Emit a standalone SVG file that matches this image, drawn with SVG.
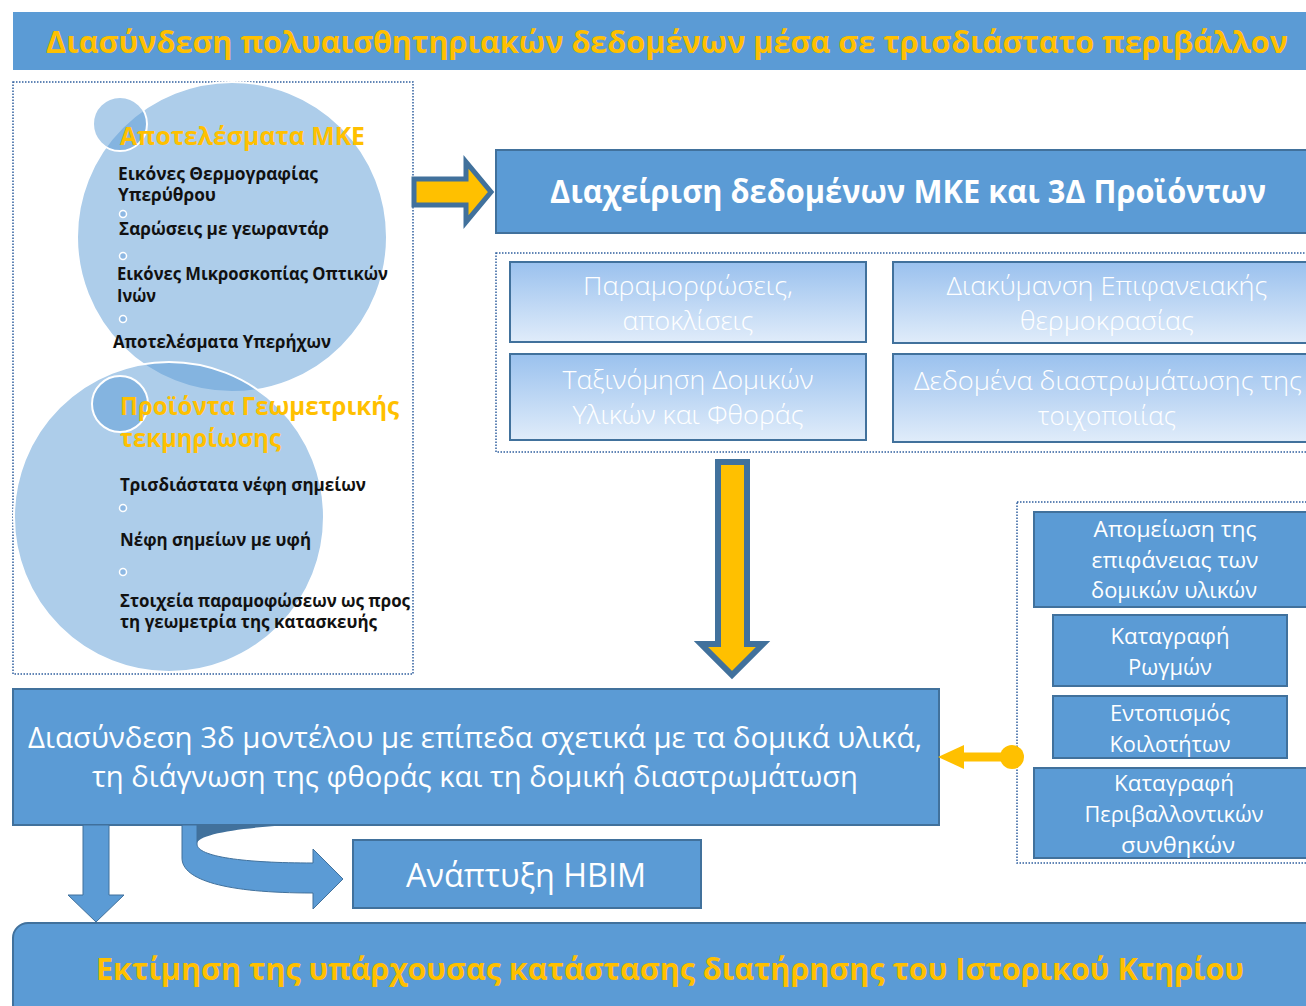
<svg xmlns="http://www.w3.org/2000/svg" width="1306" height="1006" viewBox="0 0 1306 1006">
  <defs>
    <linearGradient id="softBlue" x1="0" y1="0" x2="0" y2="1">
      <stop offset="0" stop-color="#9AC1EE"/>
      <stop offset="1" stop-color="#E0ECFA"/>
    </linearGradient>
    <style>
      text { font-family: "Open Sans", "Noto Sans", "Liberation Sans", sans-serif; }
      .box { fill: #5B9BD5; stroke: #41719C; stroke-width: 2; }
      .soft { fill: url(#softBlue); stroke: #41719C; stroke-width: 2; }
      .dots { fill: none; stroke: #2F5F9E; stroke-width: 1.5; stroke-dasharray: 1.5 1.5; }
      .bubble { fill: #5B9BD5; fill-opacity: 0.5; stroke: #FFFFFF; stroke-width: 2; }
      .bullet { fill: #8DB8E3; stroke: #FFFFFF; stroke-width: 1.5; }
      .head { fill: #FFC000; font-weight: 700; }
      .item { fill: #111111; font-weight: 700; font-size: 17px; }
      .wt { fill: #FFFFFF; text-anchor: middle; }
      .light { fill: #FFFFFF; text-anchor: middle; font-size: 26px; font-weight: 300; }
      .side { fill: #FFFFFF; text-anchor: middle; font-size: 22px; }
    </style>
  </defs>

  <!-- title bar -->
  <g id="title">
    <rect x="13" y="12" width="1300" height="58" fill="#5B9BD5"/>
    <text class="head" x="46" y="53" font-size="31" textLength="1242" lengthAdjust="spacingAndGlyphs">Διασύνδεση πολυαισθητηριακών δεδομένων μέσα σε τρισδιάστατο περιβάλλον</text>
  </g>

  <!-- left panel: inputs -->
  <g id="inputs">
    <rect class="dots" x="13" y="82" width="400" height="592"/>
    <circle class="bubble" cx="232" cy="237" r="155"/>
    <circle class="bubble" cx="169" cy="517" r="155"/>
    <circle class="bubble" cx="120" cy="124" r="27"/>
    <circle class="bubble" cx="120" cy="404" r="28"/>

    <g id="nde-results">
      <text class="head" x="120" y="145" font-size="25" textLength="245" lengthAdjust="spacingAndGlyphs">Αποτελέσματα ΜΚΕ</text>
      <text class="item" x="118" y="180" textLength="200" lengthAdjust="spacingAndGlyphs">Εικόνες Θερμογραφίας</text>
      <text class="item" x="118" y="201" textLength="98" lengthAdjust="spacingAndGlyphs">Υπερύθρου</text>
      <circle class="bullet" cx="123" cy="214" r="3.5"/>
      <text class="item" x="119" y="235" textLength="210" lengthAdjust="spacingAndGlyphs">Σαρώσεις με γεωραντάρ</text>
      <circle class="bullet" cx="123" cy="256" r="3.5"/>
      <text class="item" x="117" y="280" textLength="271" lengthAdjust="spacingAndGlyphs">Εικόνες Μικροσκοπίας Οπτικών</text>
      <text class="item" x="117" y="302" textLength="39" lengthAdjust="spacingAndGlyphs">Ινών</text>
      <circle class="bullet" cx="123" cy="319" r="3.5"/>
      <text class="item" x="113" y="348" textLength="218" lengthAdjust="spacingAndGlyphs">Αποτελέσματα Υπερήχων</text>
    </g>

    <g id="geometry-products">
      <text class="head" x="120" y="415" font-size="25" textLength="279" lengthAdjust="spacingAndGlyphs">Προϊόντα Γεωμετρικής</text>
      <text class="head" x="120" y="447" font-size="25" textLength="161" lengthAdjust="spacingAndGlyphs">τεκμηρίωσης</text>
      <text class="item" x="120" y="491" textLength="246" lengthAdjust="spacingAndGlyphs">Τρισδιάστατα νέφη σημείων</text>
      <circle class="bullet" cx="123" cy="508" r="3.5"/>
      <text class="item" x="120" y="546" textLength="191" lengthAdjust="spacingAndGlyphs">Νέφη σημείων με υφή</text>
      <circle class="bullet" cx="123" cy="572" r="3.5"/>
      <text class="item" x="120" y="607" textLength="290" lengthAdjust="spacingAndGlyphs">Στοιχεία παραμοφώσεων ως προς</text>
      <text class="item" x="120" y="628" textLength="257" lengthAdjust="spacingAndGlyphs">τη γεωμετρία της κατασκευής</text>
    </g>
  </g>

  <!-- data management header -->
  <g id="data-management">
    <rect class="box" x="496" y="150" width="820" height="83"/>
    <text class="wt" x="908" y="203" font-size="32" font-weight="700" textLength="716" lengthAdjust="spacingAndGlyphs">Διαχείριση δεδομένων ΜΚΕ και 3Δ Προϊόντων</text>
  </g>

  <!-- derived data group -->
  <g id="derived-data">
    <rect class="dots" x="496" y="253" width="820" height="199"/>
    <g id="deformations">
      <rect class="soft" x="510" y="262" width="356" height="80"/>
      <text class="light" x="688" y="295" textLength="210" lengthAdjust="spacingAndGlyphs">Παραμορφώσεις,</text>
      <text class="light" x="688" y="330" textLength="131" lengthAdjust="spacingAndGlyphs">αποκλίσεις</text>
    </g>
    <g id="surface-temperature">
      <rect class="soft" x="893" y="262" width="423" height="81"/>
      <text class="light" x="1107" y="295" textLength="321" lengthAdjust="spacingAndGlyphs">Διακύμανση Επιφανειακής</text>
      <text class="light" x="1107" y="330" textLength="174" lengthAdjust="spacingAndGlyphs">θερμοκρασίας</text>
    </g>
    <g id="materials-classification">
      <rect class="soft" x="510" y="354" width="356" height="86"/>
      <text class="light" x="688" y="389" textLength="251" lengthAdjust="spacingAndGlyphs">Ταξινόμηση Δομικών</text>
      <text class="light" x="688" y="424" textLength="231" lengthAdjust="spacingAndGlyphs">Υλικών και Φθοράς</text>
    </g>
    <g id="masonry-layers">
      <rect class="soft" x="893" y="354" width="423" height="88"/>
      <text class="light" x="1108" y="390" textLength="388" lengthAdjust="spacingAndGlyphs">Δεδομένα διαστρωμάτωσης της</text>
      <text class="light" x="1107" y="425" textLength="138" lengthAdjust="spacingAndGlyphs">τοιχοποιίας</text>
    </g>
  </g>

  <!-- right panel: monitoring items -->
  <g id="monitoring">
    <rect class="dots" x="1017" y="502" width="300" height="361"/>
    <g id="surface-loss">
      <rect class="box" x="1034" y="512" width="280" height="95"/>
      <text class="side" x="1175" y="537" textLength="163" lengthAdjust="spacingAndGlyphs">Απομείωση της</text>
      <text class="side" x="1175" y="568" textLength="167" lengthAdjust="spacingAndGlyphs">επιφάνειας των</text>
      <text class="side" x="1174" y="598" textLength="166" lengthAdjust="spacingAndGlyphs">δομικών υλικών</text>
    </g>
    <g id="cracks">
      <rect class="box" x="1053" y="615" width="234" height="71"/>
      <text class="side" x="1170" y="644" textLength="119" lengthAdjust="spacingAndGlyphs">Καταγραφή</text>
      <text class="side" x="1170" y="675" textLength="84" lengthAdjust="spacingAndGlyphs">Ρωγμών</text>
    </g>
    <g id="cavities">
      <rect class="box" x="1053" y="696" width="234" height="62"/>
      <text class="side" x="1170" y="721" textLength="120" lengthAdjust="spacingAndGlyphs">Εντοπισμός</text>
      <text class="side" x="1170" y="752" textLength="121" lengthAdjust="spacingAndGlyphs">Κοιλοτήτων</text>
    </g>
    <g id="environment">
      <rect class="box" x="1034" y="768" width="280" height="90"/>
      <text class="side" x="1174" y="791" textLength="120" lengthAdjust="spacingAndGlyphs">Καταγραφή</text>
      <text class="side" x="1174" y="822" textLength="179" lengthAdjust="spacingAndGlyphs">Περιβαλλοντικών</text>
      <text class="side" x="1178" y="853" textLength="114" lengthAdjust="spacingAndGlyphs">συνθηκών</text>
    </g>
  </g>

  <!-- 3D model linking -->
  <g id="model-linking">
    <rect class="box" x="13" y="689" width="926" height="136"/>
    <text class="wt" x="475" y="748" font-size="29" textLength="894" lengthAdjust="spacingAndGlyphs">Διασύνδεση 3δ μοντέλου με επίπεδα σχετικά με τα δομικά υλικά,</text>
    <text class="wt" x="475" y="787" font-size="29" textLength="766" lengthAdjust="spacingAndGlyphs">τη διάγνωση της φθοράς και τη δομική διαστρωμάτωση</text>
  </g>

  <!-- HBIM -->
  <g id="hbim">
    <rect class="box" x="353" y="840" width="348" height="68"/>
    <text class="wt" x="526" y="887" font-size="32" textLength="240" lengthAdjust="spacingAndGlyphs">Ανάπτυξη HBIM</text>
  </g>

  <!-- assessment -->
  <g id="assessment">
    <rect class="box" x="13" y="923" width="1310" height="110" rx="15"/>
    <text class="head" x="96" y="980" font-size="30" textLength="1148" lengthAdjust="spacingAndGlyphs">Εκτίμηση της υπάρχουσας κατάστασης διατήρησης του Ιστορικού Κτηρίου</text>
  </g>

  <!-- connectors -->
  <g id="connectors">
    <polygon points="414,179 466,179 466,162 491,192 466,222 466,205 414,205" fill="#FFC000" stroke="#41719C" stroke-width="5" stroke-linejoin="miter"/>
    <polygon points="718,462 747,462 747,644 763,644 732,675 701,644 718,644" fill="#FFC000" stroke="#41719C" stroke-width="6" stroke-linejoin="miter"/>
    <g id="monitoring-link">
      <line x1="1012" y1="757" x2="960" y2="757" stroke="#FFC000" stroke-width="9"/>
      <circle cx="1012" cy="757" r="12" fill="#FFC000"/>
      <polygon points="938,757 964,745 964,769" fill="#FFC000"/>
    </g>
    <polygon points="83,825 109,825 109,895 124,895 96,922 68,895 83,895" fill="#5B9BD5" stroke="#41719C" stroke-width="1"/>
    <g id="curved-arrow">
      <path d="M182,825 L290,825 C240,828 197,834 197,844 L182,844 Z" fill="#41719C"/>
      <path d="M182,825 L182,858 C182,880 225,893 313,893 L313,909 L343,879 L313,849 L313,863 C245,863 197,857 197,844 L197,825 Z" fill="#5B9BD5" stroke="#41719C" stroke-width="1"/>
    </g>
  </g>
</svg>
